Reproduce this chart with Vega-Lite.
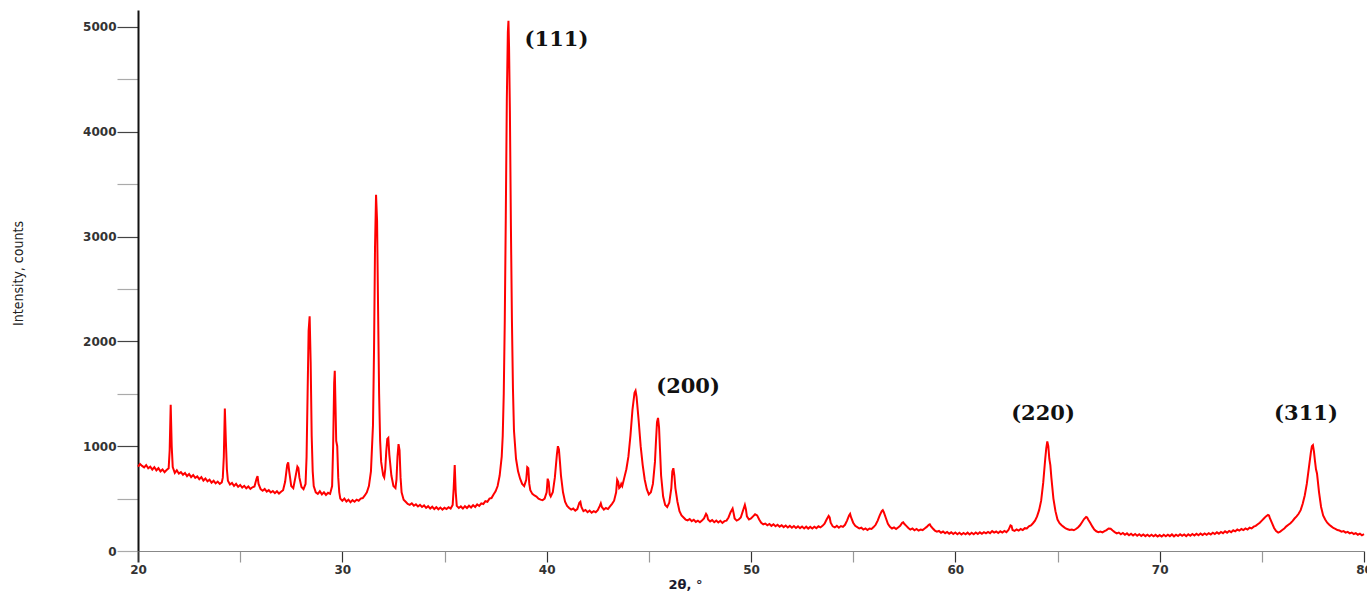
{
"$schema": "https://vega.github.io/schema/vega-lite/v6.json",
"width": 1226, "height": 541,
"autosize": {"type": "none"},
"padding": {"left": 138, "top": 10, "right": 3, "bottom": 41},
"background": "white",
"config": {"view": {"stroke": null}},
"datasets": {
"xrd": [
{"t":20.0,"c":805},{"t":20.1,"c":830},{"t":20.2,"c":812},{"t":20.3,"c":798},{"t":20.4,"c":820},{"t":20.5,"c":790},{"t":20.6,"c":805},{"t":20.7,"c":776},{"t":20.8,"c":800},{"t":20.9,"c":770},
{"t":21.0,"c":790},{"t":21.1,"c":760},{"t":21.2,"c":778},{"t":21.3,"c":752},{"t":21.4,"c":772},{"t":21.5,"c":790},{"t":21.55,"c":960},{"t":21.6,"c":1395},{"t":21.65,"c":1000},{"t":21.7,"c":800},{"t":21.8,"c":745},{"t":21.9,"c":770},
{"t":22.0,"c":738},{"t":22.1,"c":752},{"t":22.2,"c":728},{"t":22.3,"c":745},{"t":22.4,"c":715},{"t":22.5,"c":735},{"t":22.6,"c":705},{"t":22.7,"c":725},{"t":22.8,"c":698},{"t":22.9,"c":712},
{"t":23.0,"c":685},{"t":23.1,"c":705},{"t":23.2,"c":672},{"t":23.3,"c":692},{"t":23.4,"c":665},{"t":23.5,"c":680},{"t":23.6,"c":652},{"t":23.7,"c":670},{"t":23.8,"c":645},{"t":23.9,"c":662},
{"t":24.0,"c":640},{"t":24.1,"c":655},{"t":24.15,"c":700},{"t":24.2,"c":900},{"t":24.25,"c":1360},{"t":24.3,"c":1050},{"t":24.35,"c":780},{"t":24.4,"c":670},{"t":24.5,"c":635},{"t":24.6,"c":650},{"t":24.7,"c":620},{"t":24.8,"c":640},{"t":24.9,"c":612},
{"t":25.0,"c":630},{"t":25.1,"c":605},{"t":25.2,"c":622},{"t":25.3,"c":598},{"t":25.4,"c":615},{"t":25.5,"c":592},{"t":25.6,"c":608},{"t":25.7,"c":615},{"t":25.8,"c":690},{"t":25.85,"c":715},{"t":25.9,"c":640},
{"t":26.0,"c":590},{"t":26.1,"c":575},{"t":26.2,"c":592},{"t":26.3,"c":566},{"t":26.4,"c":580},{"t":26.5,"c":558},{"t":26.6,"c":572},{"t":26.7,"c":552},{"t":26.8,"c":570},{"t":26.9,"c":548},
{"t":27.0,"c":565},{"t":27.1,"c":580},{"t":27.2,"c":660},{"t":27.3,"c":820},{"t":27.35,"c":845},{"t":27.4,"c":760},{"t":27.5,"c":620},{"t":27.6,"c":600},{"t":27.7,"c":700},{"t":27.8,"c":805},{"t":27.85,"c":790},{"t":27.9,"c":700},
{"t":28.0,"c":610},{"t":28.1,"c":590},{"t":28.2,"c":640},{"t":28.25,"c":900},{"t":28.3,"c":1500},{"t":28.35,"c":2100},{"t":28.4,"c":2240},{"t":28.45,"c":1800},{"t":28.5,"c":1100},{"t":28.55,"c":760},{"t":28.6,"c":620},{"t":28.7,"c":560},{"t":28.8,"c":545},{"t":28.9,"c":570},
{"t":29.0,"c":540},{"t":29.1,"c":560},{"t":29.2,"c":535},{"t":29.3,"c":555},{"t":29.4,"c":545},{"t":29.5,"c":620},{"t":29.55,"c":1000},{"t":29.6,"c":1600},{"t":29.63,"c":1720},{"t":29.67,"c":1350},{"t":29.7,"c":1050},{"t":29.75,"c":1000},{"t":29.8,"c":700},{"t":29.85,"c":560},{"t":29.9,"c":500},
{"t":30.0,"c":480},{"t":30.1,"c":500},{"t":30.2,"c":472},{"t":30.3,"c":490},{"t":30.4,"c":465},{"t":30.5,"c":485},{"t":30.6,"c":470},{"t":30.7,"c":490},{"t":30.8,"c":480},{"t":30.9,"c":500},
{"t":31.0,"c":505},{"t":31.1,"c":530},{"t":31.2,"c":560},{"t":31.3,"c":620},{"t":31.4,"c":760},{"t":31.5,"c":1200},{"t":31.55,"c":1900},{"t":31.6,"c":2900},{"t":31.65,"c":3400},{"t":31.7,"c":3150},{"t":31.75,"c":2300},{"t":31.8,"c":1500},{"t":31.85,"c":1050},{"t":31.9,"c":850},
{"t":32.0,"c":720},{"t":32.05,"c":700},{"t":32.1,"c":780},{"t":32.15,"c":950},{"t":32.2,"c":1070},{"t":32.25,"c":1080},{"t":32.3,"c":920},{"t":32.4,"c":720},{"t":32.5,"c":620},{"t":32.6,"c":600},{"t":32.65,"c":680},{"t":32.7,"c":900},{"t":32.75,"c":1020},{"t":32.8,"c":960},{"t":32.85,"c":700},{"t":32.9,"c":560},
{"t":33.0,"c":490},{"t":33.1,"c":470},{"t":33.2,"c":450},{"t":33.3,"c":440},{"t":33.4,"c":455},{"t":33.5,"c":432},{"t":33.6,"c":445},{"t":33.7,"c":425},{"t":33.8,"c":440},{"t":33.9,"c":420},
{"t":34.0,"c":435},{"t":34.1,"c":412},{"t":34.2,"c":428},{"t":34.3,"c":405},{"t":34.4,"c":422},{"t":34.5,"c":400},{"t":34.6,"c":418},{"t":34.7,"c":398},{"t":34.8,"c":415},{"t":34.9,"c":395},
{"t":35.0,"c":412},{"t":35.1,"c":400},{"t":35.2,"c":418},{"t":35.3,"c":405},{"t":35.4,"c":440},{"t":35.45,"c":600},{"t":35.5,"c":820},{"t":35.55,"c":560},{"t":35.6,"c":430},{"t":35.7,"c":410},{"t":35.8,"c":425},{"t":35.9,"c":405},
{"t":36.0,"c":428},{"t":36.1,"c":410},{"t":36.2,"c":432},{"t":36.3,"c":415},{"t":36.4,"c":438},{"t":36.5,"c":420},{"t":36.6,"c":445},{"t":36.7,"c":430},{"t":36.8,"c":455},{"t":36.9,"c":448},
{"t":37.0,"c":475},{"t":37.1,"c":470},{"t":37.2,"c":500},{"t":37.3,"c":505},{"t":37.4,"c":540},{"t":37.5,"c":570},{"t":37.6,"c":620},{"t":37.7,"c":720},{"t":37.8,"c":900},{"t":37.85,"c":1100},{"t":37.9,"c":1500},{"t":37.95,"c":2200},
{"t":38.0,"c":3200},{"t":38.05,"c":4300},{"t":38.1,"c":4950},{"t":38.13,"c":5060},{"t":38.16,"c":4800},{"t":38.2,"c":4200},{"t":38.25,"c":3100},{"t":38.3,"c":2200},{"t":38.35,"c":1550},{"t":38.4,"c":1150},{"t":38.5,"c":880},{"t":38.6,"c":760},{"t":38.7,"c":690},{"t":38.8,"c":640},{"t":38.9,"c":620},
{"t":39.0,"c":680},{"t":39.05,"c":800},{"t":39.1,"c":790},{"t":39.15,"c":640},{"t":39.2,"c":580},{"t":39.3,"c":545},{"t":39.4,"c":530},{"t":39.5,"c":520},{"t":39.6,"c":500},{"t":39.7,"c":490},{"t":39.8,"c":485},{"t":39.9,"c":500},
{"t":40.0,"c":560},{"t":40.05,"c":690},{"t":40.1,"c":660},{"t":40.15,"c":540},{"t":40.2,"c":520},{"t":40.3,"c":560},{"t":40.4,"c":700},{"t":40.5,"c":920},{"t":40.55,"c":1000},{"t":40.6,"c":970},{"t":40.65,"c":850},{"t":40.7,"c":720},{"t":40.8,"c":560},{"t":40.9,"c":470},
{"t":41.0,"c":430},{"t":41.1,"c":410},{"t":41.2,"c":395},{"t":41.3,"c":405},{"t":41.4,"c":385},{"t":41.5,"c":400},{"t":41.6,"c":460},{"t":41.65,"c":470},{"t":41.7,"c":420},{"t":41.8,"c":380},{"t":41.9,"c":392},
{"t":42.0,"c":370},{"t":42.1,"c":385},{"t":42.2,"c":365},{"t":42.3,"c":380},{"t":42.4,"c":370},{"t":42.5,"c":390},{"t":42.6,"c":430},{"t":42.65,"c":455},{"t":42.7,"c":420},{"t":42.8,"c":395},{"t":42.9,"c":410},
{"t":43.0,"c":400},{"t":43.1,"c":425},{"t":43.2,"c":450},{"t":43.3,"c":480},{"t":43.4,"c":560},{"t":43.45,"c":680},{"t":43.5,"c":660},{"t":43.55,"c":600},{"t":43.6,"c":610},{"t":43.65,"c":640},{"t":43.7,"c":620},{"t":43.8,"c":700},{"t":43.9,"c":780},
{"t":44.0,"c":900},{"t":44.1,"c":1100},{"t":44.2,"c":1350},{"t":44.3,"c":1510},{"t":44.35,"c":1530},{"t":44.4,"c":1470},{"t":44.5,"c":1250},{"t":44.6,"c":1000},{"t":44.7,"c":820},{"t":44.8,"c":680},{"t":44.9,"c":590},
{"t":45.0,"c":540},{"t":45.1,"c":560},{"t":45.2,"c":640},{"t":45.3,"c":850},{"t":45.35,"c":1050},{"t":45.4,"c":1230},{"t":45.45,"c":1270},{"t":45.5,"c":1180},{"t":45.55,"c":950},{"t":45.6,"c":720},{"t":45.7,"c":520},{"t":45.8,"c":440},{"t":45.9,"c":420},
{"t":46.0,"c":460},{"t":46.1,"c":600},{"t":46.15,"c":760},{"t":46.2,"c":790},{"t":46.25,"c":720},{"t":46.3,"c":600},{"t":46.4,"c":470},{"t":46.5,"c":380},{"t":46.6,"c":340},{"t":46.7,"c":320},{"t":46.8,"c":300},{"t":46.9,"c":292},
{"t":47.0,"c":305},{"t":47.1,"c":285},{"t":47.2,"c":298},{"t":47.3,"c":278},{"t":47.4,"c":290},{"t":47.5,"c":275},{"t":47.6,"c":292},{"t":47.7,"c":310},{"t":47.8,"c":355},{"t":47.85,"c":340},{"t":47.9,"c":300},
{"t":48.0,"c":282},{"t":48.1,"c":295},{"t":48.2,"c":275},{"t":48.3,"c":290},{"t":48.4,"c":272},{"t":48.5,"c":288},{"t":48.6,"c":268},{"t":48.7,"c":285},{"t":48.8,"c":290},{"t":48.9,"c":320},
{"t":49.0,"c":370},{"t":49.1,"c":405},{"t":49.15,"c":360},{"t":49.2,"c":310},{"t":49.3,"c":290},{"t":49.4,"c":300},{"t":49.5,"c":320},{"t":49.6,"c":380},{"t":49.7,"c":440},{"t":49.75,"c":400},{"t":49.8,"c":330},{"t":49.9,"c":300},
{"t":50.0,"c":310},{"t":50.1,"c":330},{"t":50.2,"c":350},{"t":50.3,"c":340},{"t":50.4,"c":300},{"t":50.5,"c":270},{"t":50.6,"c":255},{"t":50.7,"c":262},{"t":50.8,"c":245},{"t":50.9,"c":258},
{"t":51.0,"c":240},{"t":51.1,"c":255},{"t":51.2,"c":236},{"t":51.3,"c":250},{"t":51.4,"c":232},{"t":51.5,"c":246},{"t":51.6,"c":228},{"t":51.7,"c":243},{"t":51.8,"c":225},{"t":51.9,"c":240},
{"t":52.0,"c":222},{"t":52.1,"c":238},{"t":52.2,"c":220},{"t":52.3,"c":235},{"t":52.4,"c":218},{"t":52.5,"c":233},{"t":52.6,"c":215},{"t":52.7,"c":232},{"t":52.8,"c":214},{"t":52.9,"c":230},
{"t":53.0,"c":215},{"t":53.1,"c":232},{"t":53.2,"c":218},{"t":53.3,"c":236},{"t":53.4,"c":225},{"t":53.5,"c":240},{"t":53.6,"c":260},{"t":53.7,"c":300},{"t":53.8,"c":335},{"t":53.85,"c":320},{"t":53.9,"c":270},
{"t":54.0,"c":235},{"t":54.1,"c":225},{"t":54.2,"c":240},{"t":54.3,"c":222},{"t":54.4,"c":238},{"t":54.5,"c":230},{"t":54.6,"c":250},{"t":54.7,"c":290},{"t":54.8,"c":340},{"t":54.85,"c":355},{"t":54.9,"c":320},
{"t":55.0,"c":270},{"t":55.1,"c":240},{"t":55.2,"c":228},{"t":55.3,"c":215},{"t":55.4,"c":222},{"t":55.5,"c":205},{"t":55.6,"c":215},{"t":55.7,"c":200},{"t":55.8,"c":215},{"t":55.9,"c":210},
{"t":56.0,"c":228},{"t":56.1,"c":250},{"t":56.2,"c":290},{"t":56.3,"c":340},{"t":56.4,"c":380},{"t":56.45,"c":390},{"t":56.5,"c":370},{"t":56.6,"c":315},{"t":56.7,"c":260},{"t":56.8,"c":230},{"t":56.9,"c":215},
{"t":57.0,"c":225},{"t":57.1,"c":210},{"t":57.2,"c":225},{"t":57.3,"c":240},{"t":57.4,"c":270},{"t":57.45,"c":275},{"t":57.5,"c":260},{"t":57.6,"c":240},{"t":57.7,"c":220},{"t":57.8,"c":205},{"t":57.9,"c":215},
{"t":58.0,"c":198},{"t":58.1,"c":210},{"t":58.2,"c":195},{"t":58.3,"c":205},{"t":58.4,"c":200},{"t":58.5,"c":215},{"t":58.6,"c":230},{"t":58.7,"c":250},{"t":58.75,"c":255},{"t":58.8,"c":238},{"t":58.9,"c":215},
{"t":59.0,"c":195},{"t":59.1,"c":185},{"t":59.2,"c":192},{"t":59.3,"c":175},{"t":59.4,"c":186},{"t":59.5,"c":170},{"t":59.6,"c":182},{"t":59.7,"c":165},{"t":59.8,"c":178},{"t":59.9,"c":162},
{"t":60.0,"c":176},{"t":60.1,"c":160},{"t":60.2,"c":174},{"t":60.3,"c":158},{"t":60.4,"c":172},{"t":60.5,"c":160},{"t":60.6,"c":175},{"t":60.7,"c":158},{"t":60.8,"c":174},{"t":60.9,"c":160},
{"t":61.0,"c":176},{"t":61.1,"c":162},{"t":61.2,"c":178},{"t":61.3,"c":164},{"t":61.4,"c":180},{"t":61.5,"c":168},{"t":61.6,"c":182},{"t":61.7,"c":170},{"t":61.8,"c":190},{"t":61.9,"c":175},
{"t":62.0,"c":186},{"t":62.1,"c":172},{"t":62.2,"c":188},{"t":62.3,"c":176},{"t":62.4,"c":192},{"t":62.5,"c":180},{"t":62.6,"c":200},{"t":62.7,"c":245},{"t":62.75,"c":240},{"t":62.8,"c":200},{"t":62.9,"c":192},
{"t":63.0,"c":205},{"t":63.1,"c":195},{"t":63.2,"c":210},{"t":63.3,"c":200},{"t":63.4,"c":218},{"t":63.5,"c":215},{"t":63.6,"c":235},{"t":63.7,"c":245},{"t":63.8,"c":265},{"t":63.9,"c":290},
{"t":64.0,"c":330},{"t":64.1,"c":390},{"t":64.2,"c":480},{"t":64.3,"c":650},{"t":64.4,"c":880},{"t":64.45,"c":980},{"t":64.5,"c":1045},{"t":64.55,"c":1000},{"t":64.6,"c":880},{"t":64.65,"c":820},{"t":64.7,"c":700},{"t":64.8,"c":500},{"t":64.9,"c":380},
{"t":65.0,"c":300},{"t":65.1,"c":265},{"t":65.2,"c":245},{"t":65.3,"c":230},{"t":65.4,"c":215},{"t":65.5,"c":208},{"t":65.6,"c":200},{"t":65.7,"c":205},{"t":65.8,"c":198},{"t":65.9,"c":210},
{"t":66.0,"c":225},{"t":66.1,"c":245},{"t":66.2,"c":275},{"t":66.3,"c":305},{"t":66.4,"c":325},{"t":66.45,"c":320},{"t":66.5,"c":300},{"t":66.6,"c":270},{"t":66.7,"c":235},{"t":66.8,"c":205},{"t":66.9,"c":188},
{"t":67.0,"c":180},{"t":67.1,"c":185},{"t":67.2,"c":178},{"t":67.3,"c":190},{"t":67.4,"c":200},{"t":67.5,"c":215},{"t":67.6,"c":212},{"t":67.7,"c":195},{"t":67.8,"c":180},{"t":67.9,"c":168},
{"t":68.0,"c":176},{"t":68.1,"c":160},{"t":68.2,"c":172},{"t":68.3,"c":155},{"t":68.4,"c":168},{"t":68.5,"c":150},{"t":68.6,"c":165},{"t":68.7,"c":148},{"t":68.8,"c":162},{"t":68.9,"c":146},
{"t":69.0,"c":160},{"t":69.1,"c":144},{"t":69.2,"c":158},{"t":69.3,"c":142},{"t":69.4,"c":156},{"t":69.5,"c":140},{"t":69.6,"c":155},{"t":69.7,"c":140},{"t":69.8,"c":154},{"t":69.9,"c":138},
{"t":70.0,"c":152},{"t":70.1,"c":138},{"t":70.2,"c":155},{"t":70.3,"c":140},{"t":70.4,"c":156},{"t":70.5,"c":142},{"t":70.6,"c":158},{"t":70.7,"c":140},{"t":70.8,"c":156},{"t":70.9,"c":143},
{"t":71.0,"c":160},{"t":71.1,"c":145},{"t":71.2,"c":158},{"t":71.3,"c":142},{"t":71.4,"c":160},{"t":71.5,"c":146},{"t":71.6,"c":162},{"t":71.7,"c":148},{"t":71.8,"c":165},{"t":71.9,"c":150},
{"t":72.0,"c":166},{"t":72.1,"c":152},{"t":72.2,"c":168},{"t":72.3,"c":155},{"t":72.4,"c":170},{"t":72.5,"c":158},{"t":72.6,"c":175},{"t":72.7,"c":162},{"t":72.8,"c":178},{"t":72.9,"c":165},
{"t":73.0,"c":182},{"t":73.1,"c":170},{"t":73.2,"c":188},{"t":73.3,"c":175},{"t":73.4,"c":192},{"t":73.5,"c":180},{"t":73.6,"c":198},{"t":73.7,"c":188},{"t":73.8,"c":205},{"t":73.9,"c":195},
{"t":74.0,"c":210},{"t":74.1,"c":200},{"t":74.2,"c":215},{"t":74.3,"c":205},{"t":74.4,"c":222},{"t":74.5,"c":215},{"t":74.6,"c":232},{"t":74.7,"c":240},{"t":74.8,"c":255},{"t":74.9,"c":270},
{"t":75.0,"c":290},{"t":75.1,"c":310},{"t":75.2,"c":330},{"t":75.3,"c":345},{"t":75.35,"c":340},{"t":75.4,"c":310},{"t":75.5,"c":265},{"t":75.6,"c":220},{"t":75.7,"c":190},{"t":75.8,"c":175},{"t":75.9,"c":185},
{"t":76.0,"c":200},{"t":76.1,"c":215},{"t":76.2,"c":235},{"t":76.3,"c":250},{"t":76.4,"c":265},{"t":76.5,"c":285},{"t":76.6,"c":310},{"t":76.7,"c":330},{"t":76.8,"c":355},{"t":76.9,"c":390},
{"t":77.0,"c":450},{"t":77.1,"c":530},{"t":77.2,"c":640},{"t":77.3,"c":790},{"t":77.4,"c":940},{"t":77.45,"c":1000},{"t":77.5,"c":1010},{"t":77.55,"c":950},{"t":77.6,"c":860},{"t":77.65,"c":780},{"t":77.7,"c":740},{"t":77.8,"c":560},{"t":77.9,"c":420},
{"t":78.0,"c":340},{"t":78.1,"c":300},{"t":78.2,"c":270},{"t":78.3,"c":250},{"t":78.4,"c":235},{"t":78.5,"c":220},{"t":78.6,"c":212},{"t":78.7,"c":200},{"t":78.8,"c":195},{"t":78.9,"c":185},
{"t":79.0,"c":190},{"t":79.1,"c":175},{"t":79.2,"c":182},{"t":79.3,"c":168},{"t":79.4,"c":176},{"t":79.5,"c":162},{"t":79.6,"c":170},{"t":79.7,"c":155},{"t":79.8,"c":165},{"t":79.9,"c":150},{"t":80.0,"c":160}
],
"labels": [
{"t":40.48,"c":4871,"lab":"(111)"},
{"t":46.92,"c":1568,"lab":"(200)"},
{"t":64.29,"c":1307,"lab":"(220)"},
{"t":77.16,"c":1307,"lab":"(311)"}
]
},
"encoding": {
"x": {"field": "t", "type": "quantitative",
 "scale": {"domain": [20, 80], "nice": false, "zero": false},
 "axis": {"title": "2θ, °", "values": [20,25,30,35,40,45,50,55,60,65,70,75,80], "grid": false, "format": "d",
  "domainColor": "#888", "domainWidth": 1, "tickSize": 11,
  "tickColor": {"condition": {"test": "datum.value % 10 === 0", "value": "#333"}, "value": "#999"},
  "tickWidth": {"condition": {"test": "datum.value === 20", "value": 2}, "value": 1.2},
  "labelExpr": "datum.value % 10 === 0 ? datum.label : ''",
  "labelFont": "DejaVu Sans", "labelFontWeight": "bold", "labelFontSize": 12, "labelColor": "#333",
  "labelPadding": 2, "labelFlush": false, "labelOverlap": false, "labelBound": false,
  "titleFont": "DejaVu Sans", "titleFontWeight": "bold", "titleFontSize": 13, "titleColor": "#1a1a2e",
  "titleX": 530, "titleY": 33, "titleAlign": "left", "titleBaseline": "middle", "titleAnchor": "start"}},
"y": {"field": "c", "type": "quantitative",
 "scale": {"domain": [0, 5162], "nice": false},
 "axis": {"title": "Intensity, counts", "values": [0,500,1000,1500,2000,2500,3000,3500,4000,4500,5000], "grid": false, "format": "d",
  "domainColor": "#111", "domainWidth": 2, "tickSize": 21,
  "tickColor": {"condition": {"test": "datum.value % 1000 === 0 && datum.value > 0", "value": "#444"}, "value": "#aaa"},
  "tickWidth": 1.2,
  "labelExpr": "datum.value % 1000 === 0 ? datum.label : ''",
  "labelFont": "DejaVu Sans", "labelFontWeight": "bold", "labelFontSize": 12, "labelColor": "#333",
  "labelPadding": 1, "labelOverlap": false, "labelBound": false,
  "titleFont": "DejaVu Sans Condensed, Liberation Sans Narrow, Roboto, sans-serif", "titleFontWeight": "normal", "titleFontSize": 14, "titleColor": "#222",
  "titleX": -120, "titleY": 263, "titleAngle": -90, "titleAlign": "center", "titleBaseline": "middle"}}
},
"layer": [
 {"data": {"name": "xrd"}, "mark": {"type": "line", "color": "#ff0000", "strokeWidth": 2}},
 {"data": {"name": "labels"}, "mark": {"type": "text", "font": "DejaVu Serif", "fontSize": 21, "fontWeight": "bold", "color": "#111", "align": "center", "baseline": "middle"},
  "encoding": {"text": {"field": "lab"}}}
]
}
